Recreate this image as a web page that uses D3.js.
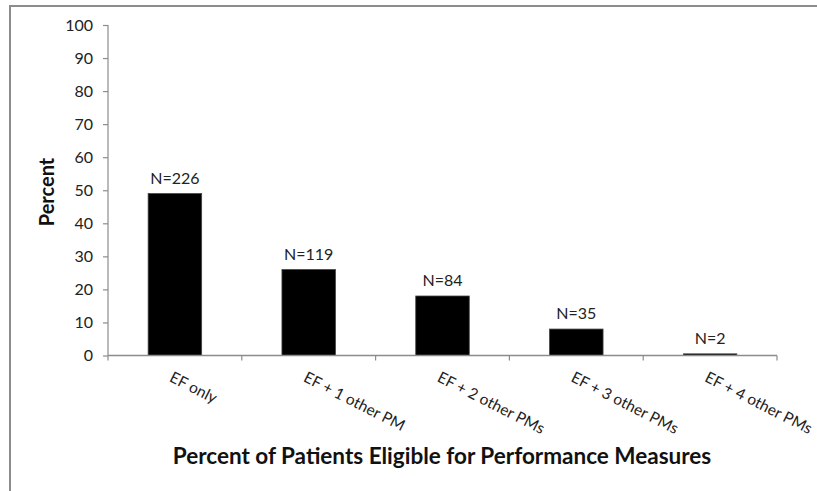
<!DOCTYPE html>
<html>
<head>
<meta charset="utf-8">
<script src="https://cdn.jsdelivr.net/npm/d3@7/dist/d3.min.js"></script>
<style>
  html, body { margin: 0; padding: 0; background: #fff; }
  svg { display: block; font-family: Lato, "Open Sans", sans-serif; }
</style>
</head>
<body>
<svg id="chart" width="817" height="491"></svg>
<script>
// Share of patients by number of eligible performance measures
const categories = ["EF only", "EF + 1 other PM", "EF + 2 other PMs", "EF + 3 other PMs", "EF + 4 other PMs"];
const percents = [49, 26, 18, 8, 0.5];
const counts = [226, 119, 84, 35, 2];
const yTicks = [0, 10, 20, 30, 40, 50, 60, 70, 80, 90, 100];

const svg = d3.select("#chart");
const W = 817, H = 491;
const plot = { left: 108, right: 777, top: 25, bottom: 355.5 };

// outer frame
svg.append("path")
  .attr("d", `M10,${H} L10,6 L${W},6`)
  .attr("fill", "none")
  .attr("stroke", "#8c8c8c")
  .attr("stroke-width", 2);

const x = d3.scaleBand()
  .domain(categories)
  .range([plot.left, plot.right])
  .paddingInner(0.6)
  .paddingOuter(0.3);

const y = d3.scaleLinear()
  .domain([0, 100])
  .range([plot.bottom, plot.top]);

// y axis
const yAxis = svg.append("g")
  .attr("transform", `translate(${plot.left},0)`)
  .call(d3.axisLeft(y).tickValues(yTicks).tickSize(5).tickPadding(10).tickFormat(d3.format("d")));
yAxis.selectAll("path, line").attr("stroke", "#8c8c8c").attr("stroke-width", 1.2);
yAxis.select(".domain").attr("d", `M0,${plot.bottom}V${plot.top}`).attr("stroke", "#8c8c8c");
yAxis.selectAll("text").attr("font-size", 16).attr("fill", "#222").attr("font-family", "Lato, sans-serif");

// bars
svg.append("g").selectAll("rect")
  .data(categories)
  .join("rect")
  .attr("x", d => x(d))
  .attr("width", x.bandwidth())
  .attr("y", (d, i) => y(percents[i]))
  .attr("height", (d, i) => y(0) - y(percents[i]))
  .attr("fill", "#000")
  .attr("stroke", "#444")
  .attr("stroke-width", 0.8);

// x axis with ticks on category boundaries
const boundaries = d3.range(categories.length + 1).map(i => plot.left + i * (plot.right - plot.left) / categories.length);
const xg = svg.append("g");
xg.append("line")
  .attr("x1", plot.left).attr("x2", plot.right)
  .attr("y1", plot.bottom).attr("y2", plot.bottom)
  .attr("stroke", "#8c8c8c").attr("stroke-width", 1.4);
xg.selectAll("line.tick")
  .data(boundaries)
  .join("line")
  .attr("class", "tick")
  .attr("x1", d => d).attr("x2", d => d)
  .attr("y1", plot.bottom).attr("y2", plot.bottom + 5)
  .attr("stroke", "#8c8c8c").attr("stroke-width", 1.2);

// rotated category labels
xg.selectAll("text")
  .data(categories)
  .join("text")
  .attr("transform", d => `translate(${x(d) + x.bandwidth() / 2 - 1},${plot.bottom + 15}) rotate(27)`)
  .attr("dy", "0.75em")
  .attr("text-anchor", "start")
  .attr("font-size", 15.5)
  .attr("fill", "#222")
  .text(d => d);

// count labels above bars
svg.append("g").selectAll("text")
  .data(categories)
  .join("text")
  .attr("x", d => x(d) + x.bandwidth() / 2)
  .attr("y", (d, i) => y(percents[i]) - 10)
  .attr("text-anchor", "middle")
  .attr("font-size", 16)
  .attr("fill", "#222")
  .text((d, i) => "N=" + counts[i]);

// axis titles
svg.append("text")
  .attr("transform", `translate(54,192) rotate(-90)`)
  .attr("text-anchor", "middle")
  .attr("font-size", 20)
  .attr("font-weight", "bold")
  .attr("fill", "#111")
  .text("Percent");

svg.append("text")
  .attr("x", 442)
  .attr("y", 464)
  .attr("text-anchor", "middle")
  .attr("font-size", 22.5)
  .attr("font-weight", "bold")
  .attr("fill", "#111")
  .text("Percent of Patients Eligible for Performance Measures");
</script>
</body>
</html>
